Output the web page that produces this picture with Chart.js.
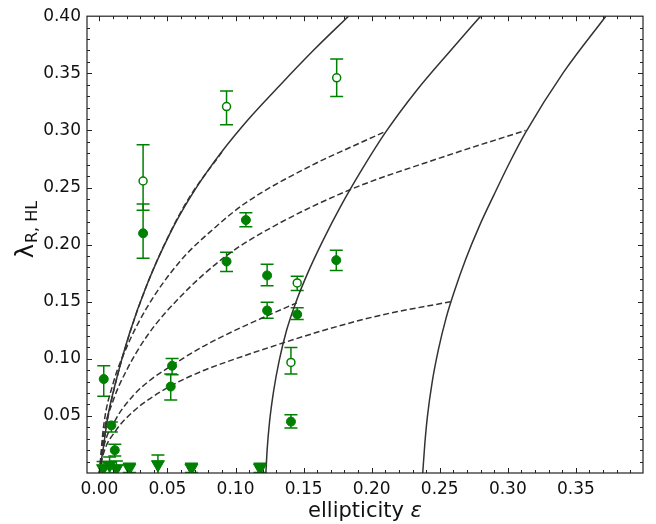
<!DOCTYPE html>
<html>
<head>
<meta charset="utf-8">
<script src="https://cdn.jsdelivr.net/npm/chart.js@4.4.1/dist/chart.umd.min.js"></script>
<style>
  html, body { margin: 0; padding: 0; background: #fff; }
  #wrap { width: 656px; height: 524px; }
</style>
</head>
<body>
<div id="wrap"><canvas id="grafico" width="656" height="524"></canvas></div>
<script>
// model tracks as [epsilon, lambda]
const solidLeft = [[0.000,0.000],[0.003,0.023],[0.006,0.048],[0.0125,0.082],[0.022,0.122],[0.035,0.165],[0.052,0.210],[0.066,0.240],[0.084,0.272],[0.106,0.305],[0.133,0.340],[0.158,0.371],[0.183,0.400]];
const solidMid = [[0.1223,0.000],[0.1232,0.020],[0.1250,0.045],[0.1280,0.072],[0.1320,0.098],[0.1375,0.125],[0.1445,0.150],[0.1530,0.175],[0.1640,0.203],[0.1770,0.233],[0.1930,0.266],[0.2100,0.298],[0.2330,0.335],[0.2580,0.370],[0.2800,0.400]];
const solidRight = [[0.2375,0.000],[0.2390,0.025],[0.2410,0.050],[0.2445,0.080],[0.2490,0.108],[0.2545,0.135],[0.2610,0.160],[0.2690,0.187],[0.2790,0.216],[0.2900,0.244],[0.3010,0.271],[0.3130,0.298],[0.3410,0.351],[0.3720,0.400]];

const dashLeft = [[0,0],[0.003,0.026],[0.0065,0.050],[0.013,0.084],[0.023,0.125],[0.036,0.168],[0.053,0.213],[0.067,0.243],[0.090,0.281]];
const dashMidHigh = [[0,0],[0.003,0.040],[0.010,0.078],[0.020,0.110],[0.035,0.145],[0.059,0.185],[0.085,0.215],[0.108,0.237],[0.157,0.270],[0.184,0.285],[0.210,0.299]];
const dashRightHigh = [[0,0],[0.003,0.033],[0.010,0.063],[0.020,0.090],[0.035,0.120],[0.060,0.155],[0.093,0.190],[0.128,0.216],[0.184,0.248],[0.248,0.275],[0.313,0.300]];
const dashMidLow = [[0,0],[0.003,0.022],[0.012,0.047],[0.025,0.068],[0.037,0.081],[0.053,0.094],[0.075,0.110],[0.098,0.124],[0.122,0.137],[0.145,0.149]];
const dashRightLow = [[0,0],[0.003,0.017],[0.012,0.037],[0.025,0.054],[0.037,0.065],[0.052,0.076],[0.075,0.089],[0.100,0.100],[0.130,0.112],[0.165,0.125],[0.206,0.138],[0.258,0.150]];

// filled points
const filledEps = [0.0032, 0.0088, 0.0113, 0.0321, 0.0524, 0.0534, 0.0934, 0.1076, 0.1232, 0.1232, 0.1407, 0.1453, 0.1740];
const filledLam = [0.0823, 0.0417, 0.0200, 0.2099, 0.0757, 0.0939, 0.1852, 0.2215, 0.1730, 0.1423, 0.0450, 0.1389, 0.1864];
const filledLo  = [0.0672, 0.0360, 0.0148, 0.1880, 0.0640, 0.0860, 0.1765, 0.2157, 0.1640, 0.1354, 0.0394, 0.1345, 0.1774];
const filledHi  = [0.0939, 0.0446, 0.0252, 0.2356, 0.0867, 0.1003, 0.1933, 0.2278, 0.1829, 0.1496, 0.0510, 0.1446, 0.1950];

// open points
const openEps = [0.0321, 0.0934, 0.1407, 0.1453, 0.1743];
const openLam = [0.2557, 0.3209, 0.0968, 0.1664, 0.3460];
const openLo  = [0.2300, 0.3050, 0.0867, 0.1597, 0.3296];
const openHi  = [0.2875, 0.3345, 0.1098, 0.1722, 0.3626];

// upper limits (triangles)
const limEps = [0.0027, 0.0075, 0.0125, 0.0220, 0.0430, 0.0676, 0.1180];
const limLam = [0.0040, 0.0070, 0.0040, 0.0045, 0.0075, 0.0045, 0.0045];
const limLo  = [-0.002, 0.0000, -0.0025, 0.0005, -0.0007, 0.0005, 0.0005];
const limHi  = [0.0100, 0.0140, 0.0105, 0.0085, 0.0157, 0.0085, 0.0085];

const xTicks = [0.00, 0.05, 0.10, 0.15, 0.20, 0.25, 0.30, 0.35];
const yTicks = [0.05, 0.10, 0.15, 0.20, 0.25, 0.30, 0.35, 0.40];

(function () {
  const FONT = "'DejaVu Sans', sans-serif";
  const GREEN = "#008000";
  const LINE = "#333333";
  const X_MIN = -0.0091, X_MAX = 0.3993;

  const pares = (xs, ys) => xs.map((x, i) => ({ x, y: ys[i] }));
  const curva = arr => arr.map(p => ({ x: p[0], y: p[1] }));

  function linha(arr, dashed) {
    return {
      type: "line",
      data: curva(arr),
      borderColor: LINE,
      borderWidth: 1.5,
      borderDash: dashed ? [6, 3] : [],
      pointRadius: 0,
      fill: false,
      cubicInterpolationMode: "monotone"
    };
  }

  // error bars drawn under the markers
  const errorBars = {
    id: "errorBars",
    beforeDatasetsDraw(chart) {
      const { ctx, chartArea: a, scales: { x, y } } = chart;
      ctx.save();
      ctx.beginPath();
      ctx.rect(a.left, a.top, a.right - a.left, a.bottom - a.top);
      ctx.clip();
      ctx.strokeStyle = GREEN;
      ctx.lineWidth = 1.5;
      chart.data.datasets.forEach(ds => {
        if (!ds.errLo) return;
        ds.data.forEach((p, i) => {
          const px = x.getPixelForValue(p.x);
          const y1 = y.getPixelForValue(ds.errLo[i]);
          const y2 = y.getPixelForValue(ds.errHi[i]);
          ctx.beginPath();
          ctx.moveTo(px, y1); ctx.lineTo(px, y2);
          ctx.moveTo(px - 6.5, y1); ctx.lineTo(px + 6.5, y1);
          ctx.moveTo(px - 6.5, y2); ctx.lineTo(px + 6.5, y2);
          ctx.stroke();
        });
      });
      ctx.restore();
    }
  };

  // frame, inward ticks on all four sides, axis titles
  const moldura = {
    id: "moldura",
    afterDraw(chart) {
      const { ctx, chartArea: a, scales: { x, y } } = chart;
      ctx.save();
      ctx.strokeStyle = "#222";
      ctx.lineWidth = 1.2;
      ctx.strokeRect(a.left, a.top, a.right - a.left, a.bottom - a.top);
      ctx.lineWidth = 1;
      ctx.beginPath();
      for (let k = -1; k <= 40; k++) {
        const v = k / 100;
        if (v < X_MIN || v > X_MAX) continue;
        const len = k % 5 === 0 ? 5 : 3;
        const px = Math.round(x.getPixelForValue(v)) + 0.5;
        ctx.moveTo(px, a.bottom); ctx.lineTo(px, a.bottom - len);
        ctx.moveTo(px, a.top); ctx.lineTo(px, a.top + len);
      }
      for (let k = 1; k < 40; k++) {
        const len = k % 5 === 0 ? 5 : 3;
        const py = Math.round(y.getPixelForValue(k / 100)) + 0.5;
        ctx.moveTo(a.left, py); ctx.lineTo(a.left + len, py);
        ctx.moveTo(a.right, py); ctx.lineTo(a.right - len, py);
      }
      ctx.stroke();

      ctx.fillStyle = "#111";
      ctx.textBaseline = "alphabetic";
      ctx.textAlign = "left";
      // x title
      const t1 = "ellipticity ";
      ctx.font = `21px ${FONT}`;
      const w1 = ctx.measureText(t1).width;
      ctx.font = `italic 21px ${FONT}`;
      const w2 = ctx.measureText("ε").width;
      const cx = (a.left + a.right) / 2;
      ctx.font = `21px ${FONT}`;
      ctx.fillText(t1, cx - (w1 + w2) / 2, 517);
      ctx.font = `italic 21px ${FONT}`;
      ctx.fillText("ε", cx - (w1 + w2) / 2 + w1, 517);

      // y title with subscript
      ctx.translate(33, 230);
      ctx.rotate(-Math.PI / 2);
      ctx.font = `24px ${FONT}`;
      const wl = ctx.measureText("λ").width;
      ctx.font = `16px ${FONT}`;
      const ws = ctx.measureText("R, HL").width;
      const x0 = -(wl + ws) / 2;
      ctx.font = `24px ${FONT}`;
      ctx.fillText("λ", x0, 0);
      ctx.font = `16px ${FONT}`;
      ctx.fillText("R, HL", x0 + wl + 1, 4);
      ctx.restore();
    }
  };

  const datasets = [
    {
      label: "filled",
      data: pares(filledEps, filledLam),
      errLo: filledLo, errHi: filledHi,
      pointStyle: "circle", pointRadius: 4.5,
      backgroundColor: GREEN, borderColor: GREEN, borderWidth: 1
    },
    {
      label: "open",
      data: pares(openEps, openLam),
      errLo: openLo, errHi: openHi,
      pointStyle: "circle", pointRadius: 4,
      backgroundColor: "#fff", borderColor: GREEN, borderWidth: 1.5
    },
    {
      label: "limits",
      data: pares(limEps, limLam),
      errLo: limLo, errHi: limHi,
      pointStyle: "triangle", rotation: 180, pointRadius: 7.5,
      backgroundColor: GREEN, borderColor: GREEN, borderWidth: 1,
      clip: 0
    },
    linha(dashLeft, true),
    linha(dashMidHigh, true),
    linha(dashRightHigh, true),
    linha(dashMidLow, true),
    linha(dashRightLow, true),
    linha(solidLeft, false),
    linha(solidMid, false),
    linha(solidRight, false)
  ];

  new Chart(document.getElementById("grafico"), {
    type: "scatter",
    data: { datasets },
    options: {
      responsive: false,
      animation: false,
      devicePixelRatio: 1,
      layout: { padding: { top: 13, right: 13, left: 0, bottom: 0 } },
      plugins: { legend: { display: false }, tooltip: { enabled: false } },
      scales: {
        x: {
          type: "linear",
          min: X_MIN, max: X_MAX,
          afterFit: s => { s.height = 51; },
          afterBuildTicks: s => { s.ticks = xTicks.map(v => ({ value: v })); },
          grid: { display: false, drawTicks: false },
          border: { display: false },
          ticks: {
            padding: 6, color: "#111", maxRotation: 0,
            font: { family: FONT, size: 17 },
            callback: v => Number(v).toFixed(2)
          }
        },
        y: {
          type: "linear",
          min: 0, max: 0.4,
          afterFit: s => { s.width = 87; },
          afterBuildTicks: s => { s.ticks = yTicks.map(v => ({ value: v })); },
          grid: { display: false, drawTicks: false },
          border: { display: false },
          ticks: {
            padding: 6, color: "#111",
            font: { family: FONT, size: 17 },
            callback: v => Number(v).toFixed(2)
          }
        }
      }
    },
    plugins: [errorBars, moldura]
  });
})();
</script>
</body>
</html>
